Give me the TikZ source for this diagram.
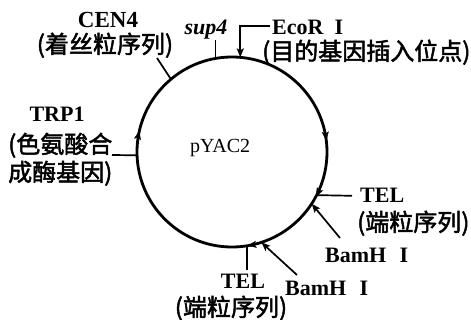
\documentclass[tikz,border=0pt]{standalone}
\usepackage{fontspec}
\setmainfont{Liberation Serif}
\newfontfamily\cjk[AutoFakeBold=2]{Noto Sans CJK SC}
\usetikzlibrary{arrows.meta,decorations.markings}
\begin{document}
\begin{tikzpicture}[x=1pt,y=-1pt,
  lab/.style={inner sep=0pt, anchor=base, font=\fontsize{22}{22}\selectfont\bfseries},
  zh/.style={inner sep=0pt, anchor=base, font=\fontsize{24}{24}\selectfont\cjk\bfseries},
  lead/.style={line width=1.7pt},
  tip/.style={-{Stealth[length=9pt,width=7pt,inset=2pt]}},
  ring/.style={line width=2.8pt},
  cwarrow/.style={decoration={markings,
      mark=at position #1 with {\arrow{Stealth[length=9pt,width=7pt,inset=2pt]}}},
      postaction=decorate},
]
\useasboundingbox (0,0) rectangle (471,320);
% plasmid ring
\node[circle, draw, ring, minimum size=190pt, outer sep=0pt, inner sep=0pt] (P) at (232,152) {};
\path[cwarrow=0.536] (P.center) circle[radius=95];
\path[cwarrow=0.981] (P.center) circle[radius=95];
\path[cwarrow=0.078] (P.center) circle[radius=95];
\path[cwarrow=0.224] (P.center) circle[radius=95];
\node[anchor=base west, inner sep=0pt, font=\fontsize{20}{20}\selectfont] (name) at (190,153) {pYAC2};

% CEN4
\node[lab, font=\fontsize{23}{23}\selectfont\bfseries] (cen) at (108,28) {CEN4};
\node[zh] (cenzh) at (105,53) {(着丝粒序列)};
\coordinate (cenEnd) at (157,58);
\draw[lead] (P.130) -- (cenEnd);

% sup4
\node[lab, font=\fontsize{22}{22}\selectfont\bfseries\itshape] (sup) at (206,35) {sup4};
\coordinate (s40) at (0,40);
\draw[lead] (P.100) -- (P.100 |- s40);

% EcoR I
\node[lab, anchor=base west] (ecor) at (272,35) {EcoR\hspace{0.5em}I};
\node[zh, anchor=base west] (ecorzh) at (262,60) {(目的基因插入位点)};
\draw[lead, tip] ([xshift=-2pt,yshift=2pt]ecor.west) -| (P.85);

% TRP1
\node[lab] (trp) at (57,122) {TRP1};
\node[zh, anchor=base west] (trp1) at (8,153) {(色氨酸合};
\node[zh, anchor=base west] (trp2) at (8,181) {成酶基因)};
\coordinate (trpEnd) at (112,155);
\draw[lead] (trpEnd) -- (P.182);

% TEL right
\node[lab, anchor=base west] (telR) at (360,203) {TEL};
\node[zh, anchor=base west] (telRzh) at (357,231) {(端粒序列)};
\draw[lead] ([xshift=-8pt]telR.west) -- (P.333);

% BamH I right
\node[lab, anchor=base west] (bamR) at (325,262) {BamH\hspace{0.6em}I};
\coordinate (b1s) at (340,238);
\draw[lead, tip] (b1s) -- (P.327);

% BamH I bottom
\node[lab, anchor=base west] (bamB) at (285,295) {BamH\hspace{0.6em}I};
\coordinate (b2s) at (297,275);
\draw[lead, tip] (b2s) -- (P.288);

% TEL bottom
\node[lab] (telB) at (243,289) {TEL};
\node[zh] (telBzh) at (231,316) {(端粒序列)};
\coordinate (t270) at (0,270);
\draw[lead] (P.279) -- (P.279 |- t270);
\end{tikzpicture}
\end{document}
